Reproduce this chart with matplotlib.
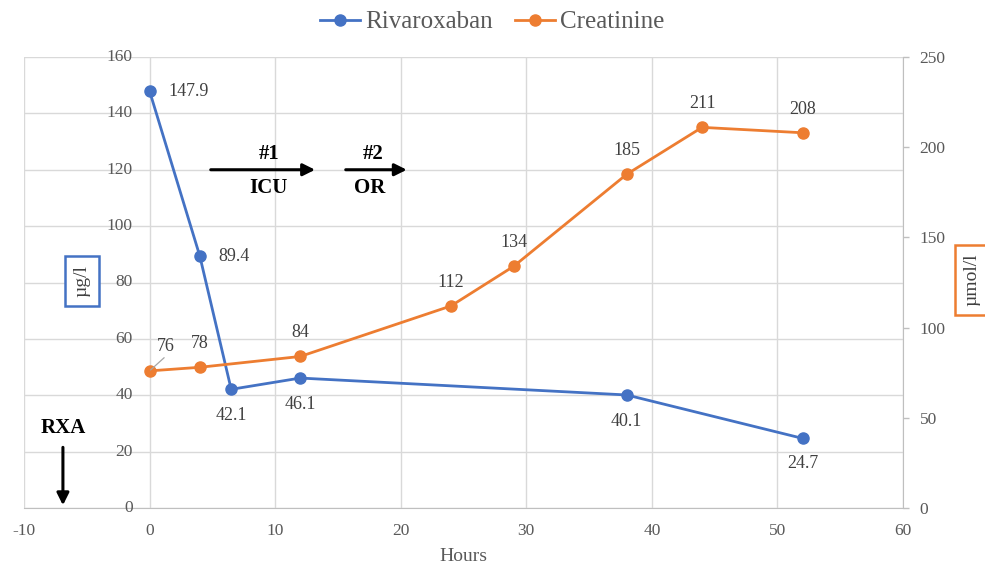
import matplotlib
matplotlib.use("Agg")
import matplotlib.pyplot as plt

# ---- data ----
riva_hours = [0, 4, 6.5, 12, 38, 52]
riva_vals = [147.9, 89.4, 42.1, 46.1, 40.1, 24.7]
crea_hours = [0, 4, 12, 24, 29, 38, 44, 52]
crea_vals = [76, 78, 84, 112, 134, 185, 211, 208]
x_ticks = [-10, 0, 10, 20, 30, 40, 50, 60]
left_ticks = [0, 20, 40, 60, 80, 100, 120, 140, 160]
right_ticks = [0, 50, 100, 150, 200, 250]

BLUE = "#4472C4"
ORANGE = "#ED7D31"
GRID = "#D9D9D9"
TICKC = "#595959"
LABC = "#404040"

plt.rcParams['font.family'] = ['Liberation Serif', 'DejaVu Serif']
plt.rcParams['axes.unicode_minus'] = False

fig = plt.figure(figsize=(9.85, 5.68), dpi=100)
ax = fig.add_axes([24/985, 1-508/568, (903-24)/985, (508-57)/568])
ax2 = ax.twinx()

ax.set_xlim(-10, 60)
ax.set_ylim(0, 160)
ax2.set_ylim(0, 250)
ax.set_xticks(x_ticks)
ax.set_yticks(left_ticks)
ax2.set_yticks(right_ticks)

ax.grid(True, color=GRID, linewidth=1.0)
ax.set_axisbelow(True)

for s in ['top', 'left']:
    ax.spines[s].set_visible(False)
for s in ['top', 'left', 'bottom']:
    ax2.spines[s].set_visible(False)
ax.spines['right'].set_visible(False)
ax.spines['bottom'].set_color('#BFBFBF')
ax2.spines['right'].set_color('#BFBFBF')

# left axis labels drawn at x = 0
ax.tick_params(axis='y', length=0, pad=0)
ax.set_yticklabels([])
for v in left_ticks:
    ax.annotate(str(v), xy=(0, v), xytext=(-12, 0), textcoords='offset points',
                ha='right', va='center', fontsize=12.5, color=TICKC)

ax.tick_params(axis='x', length=0, pad=11, labelsize=12.5, labelcolor=TICKC)
ax2.tick_params(axis='y', length=4, width=1, color='#BFBFBF', pad=8,
                labelsize=12.5, labelcolor=TICKC)

l1, = ax.plot(riva_hours, riva_vals, color=BLUE, lw=2, marker='o', ms=8,
              label='Rivaroxaban', zorder=3, clip_on=False)
l2, = ax2.plot(crea_hours, crea_vals, color=ORANGE, lw=2, marker='o', ms=8,
               label='Creatinine', zorder=3, clip_on=False)

# data labels rivaroxaban
riva_offsets = [(13.5, 0, 'left', 'center'), (13.5, 0, 'left', 'center'),
                (0, -19, 'center', 'center'), (0, -19, 'center', 'center'),
                (0, -19, 'center', 'center'), (0, -18, 'center', 'center')]
for x, y, (dx, dy, ha, va) in zip(riva_hours, riva_vals, riva_offsets):
    ax.annotate(f"{y}", xy=(x, y), xytext=(dx, dy), textcoords='offset points',
                ha=ha, va=va, fontsize=13, color=LABC)

for i, (x, y) in enumerate(zip(crea_hours, crea_vals)):
    if i == 0:
        ax2.annotate(f"{y}", xy=(x, y), xytext=(12, 17.5), textcoords='offset points',
                     ha='center', va='center', fontsize=13, color=LABC)
        # leader line
        ax2.annotate('', xy=(x, y), xytext=(10.5, 9.5), textcoords='offset points',
                     arrowprops=dict(arrowstyle='-', color='#A6A6A6', lw=0.9,
                                     shrinkA=0, shrinkB=1))
    else:
        ax2.annotate(f"{y}", xy=(x, y), xytext=(0, 17), textcoords='offset points',
                     ha='center', va='center', fontsize=13, color=LABC)

ax.set_xlabel('Hours', fontsize=14, color=TICKC, labelpad=6)

# axis unit boxes
ax.text(-5.4, 80.5, 'µg/l', rotation=90, ha='center', va='center', fontsize=14,
        color=LABC, bbox=dict(boxstyle='square,pad=0.45', fc='white', ec=BLUE, lw=1.8))
fig.text(972/985, 1-280/568, 'µmol/l', rotation=90, ha='center', va='center',
         fontsize=14, color=LABC,
         bbox=dict(boxstyle='square,pad=0.45', fc='white', ec=ORANGE, lw=1.8))

# annotations
arrow = dict(arrowstyle='-|>', color='black', lw=2.2, mutation_scale=18)
ax.annotate('', xy=(13.4, 120), xytext=(4.65, 120), arrowprops=arrow)
ax.annotate('', xy=(20.7, 120), xytext=(15.4, 120), arrowprops=arrow)
ax.text(9.5, 125.5, '#1', ha='center', va='center', fontsize=15, fontweight='bold')
ax.text(9.5, 113.5, 'ICU', ha='center', va='center', fontsize=15, fontweight='bold')
ax.text(17.8, 125.5, '#2', ha='center', va='center', fontsize=15, fontweight='bold')
ax.text(17.5, 113.5, 'OR', ha='center', va='center', fontsize=15, fontweight='bold')
ax.text(-6.9, 28.5, 'RXA', ha='center', va='center', fontsize=15, fontweight='bold')
ax.annotate('', xy=(-6.9, 0), xytext=(-6.9, 22.5), arrowprops=arrow)

fig.legend(handles=[l1, l2], loc='center', bbox_to_anchor=(0.5, 1-22/568), ncol=2,
           frameon=False, fontsize=18, handlelength=1.6, handletextpad=0.2,
           columnspacing=0.9, labelcolor=TICKC)

fig.savefig('out.png', dpi=100)
